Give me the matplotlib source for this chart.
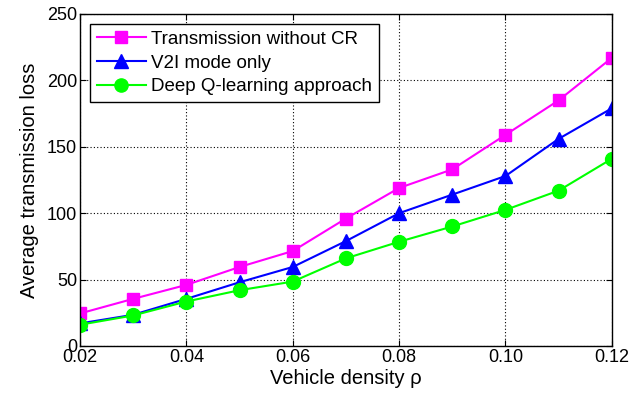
import matplotlib
matplotlib.use("Agg")
import matplotlib.pyplot as plt

plt.rcParams['font.family'] = ['Liberation Sans', 'DejaVu Sans']

density = [0.02, 0.03, 0.04, 0.05, 0.06, 0.07, 0.08, 0.09, 0.10, 0.11, 0.12]
no_cr = [24.5, 35.5, 46, 59.5, 71.5, 96, 119, 133, 159, 185, 217]
v2i_only = [17, 23.5, 35.5, 48, 59.5, 79, 100, 114, 128, 156, 179]
dql = [16, 23, 33.5, 42, 48.5, 66, 78.5, 90, 102.5, 117, 141]

xticks = [0.02, 0.04, 0.06, 0.08, 0.10, 0.12]
xticklabels = ['0.02', '0.04', '0.06', '0.08', '0.10', '0.12']
yticks = [0, 50, 100, 150, 200, 250]

fig = plt.figure(figsize=(6.38, 4.0), dpi=100)
ax = fig.add_axes([0.1254, 0.135, 0.8336, 0.83])

ax.plot(density, no_cr, color='#ff00ff', marker='s', markersize=9, lw=1.5,
        label='Transmission without CR')
ax.plot(density, v2i_only, color='#0000ff', marker='^', markersize=10, lw=1.5,
        label='V2I mode only')
ax.plot(density, dql, color='#00ff00', marker='o', markersize=10, lw=1.5,
        label='Deep Q-learning approach')

ax.set_xlim(0.02, 0.12)
ax.set_ylim(0, 250)
ax.set_xticks(xticks)
ax.set_xticklabels(xticklabels)
ax.set_yticks(yticks)
ax.tick_params(direction='in', top=True, right=True, labelsize=13, length=4, pad=2)
ax.grid(True, linestyle=(0, (1, 2)), color='black', linewidth=0.8)
for s in ax.spines.values():
    s.set_linewidth(1.0)

ax.set_xlabel('Vehicle density ρ', fontsize=14.5, labelpad=2)
ax.set_ylabel('Average transmission loss', fontsize=14.5, labelpad=6)

leg = ax.legend(loc='upper left', bbox_to_anchor=(0.0, 1.0), fontsize=13.5,
                fancybox=False, framealpha=1, edgecolor='black',
                handlelength=2.6, borderpad=0.35, labelspacing=0.35,
                handletextpad=0.3, borderaxespad=0.55, markerscale=0.95)
leg.get_frame().set_linewidth(1.0)

fig.savefig('out.png', dpi=100)
